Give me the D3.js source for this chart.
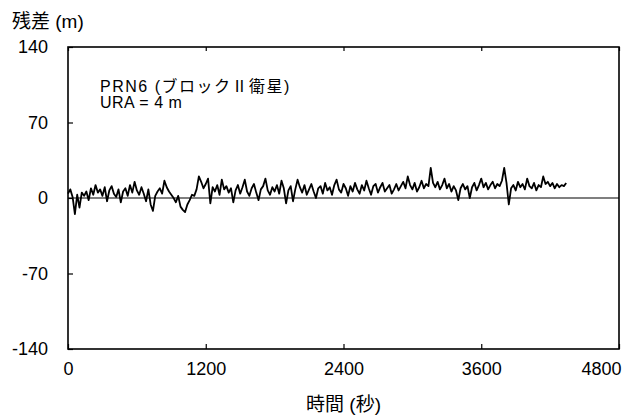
<!DOCTYPE html>
<html><head><meta charset="utf-8">
<script src="https://cdn.jsdelivr.net/npm/d3@7"></script>
<style>
body{margin:0;background:#fff;}
svg text{font-family:"Liberation Sans",Arial,"Noto Sans CJK JP",sans-serif;fill:#000;}
</style></head>
<body>
<svg id="c" width="627" height="418"></svg>
<script>
const xTicks = [0, 1200, 2400, 3600, 4800];
const yTicks = [-140, -70, 0, 70, 140];
const timeStep = 20; // seconds between samples
const residuals = [
 4, 8, 1, -15, 3, -9, 5, 2, 6, -2,
 9, 3, 12, 5, 8, 2, 10, -3, 7, 11,
 4, 1, 8, -4, 6, 9, 2, 12, 5, 15,
 7, 3, 10, 4, -3, 8, -6, -12, 2, 6,
 9, 4, 16, 10, 6, 3, 0, -4, 2, -8,
 -11, -13, -6, -2, 3, 2, 8, 20, 15, 9,
 13, 18, -5, 10, 6, 12, 3, 17, 8, 11,
 5, 9, -4, 7, 12, 4, 10, 17, 6, 2,
 9, 13, 5, -2, 8, 11, 18, 7, 3, 10,
 6, 12, 4, 16, 9, -5, 7, 11, -3, 8,
 17, 10, 5, 12, 3, 8, 13, 6, 0, 9,
 11, 4, 14, 7, 10, 3, 12, 17, 8, 5,
 13, 9, 2, 11, 6, 14, 8, 4, 12, 7,
 16, 9, 3, 11, 13, 5, 10, 14, 6, 9,
 12, 4, 8, 13, 7, 11, 15, 9, 20, 12,
 8, 14, 6, 10, 16, 9, 13, 11, 28, 14,
 10, 15, 8, 12, 18, 9, 13, 6, 11, 7,
 -2, 9, 13, 8, 11, 0, 10, 14, 7, 12,
 18, 10, 14, 8, 12, 15, 9, 13, 11, 16,
 28, 14, -6, 9, 12, 7, 15, 10, 13, 8,
 18, 11, 9, 14, 7, 12, 10, 20, 13, 15,
 11, 14, 9, 13, 10, 12, 11, 14
];
const yTitle = "残差 (m)";
const xTitle = "時間 (秒)";
const noteLines = ["PRN6 (ブロックⅡ衛星)", "URA = 4 m"];

const svg = d3.select("#c");
const L = 68, R = 619, T = 47, B = 349;
const x = d3.scaleLinear().domain([0, 4800]).range([L, R]);
const y = d3.scaleLinear().domain([-140, 140]).range([B, T]);
const fmt = d => String(d);

// zero line
svg.append("line").attr("x1", L).attr("x2", R).attr("y1", y(0)).attr("y2", y(0))
  .attr("stroke", "#000").attr("stroke-width", 1.2);

// data line
const pts = residuals.map((v, i) => [i * timeStep, v]);
svg.append("path").datum(pts)
  .attr("fill", "none").attr("stroke", "#000").attr("stroke-width", 1.8)
  .attr("stroke-linejoin", "round")
  .attr("d", d3.line().x(d => x(d[0])).y(d => y(d[1])));

// frame
svg.append("rect").attr("x", L).attr("y", T).attr("width", R - L).attr("height", B - T)
  .attr("fill", "none").attr("stroke", "#000").attr("stroke-width", 1.6);

// axes (inward ticks)
const xb = svg.append("g").attr("transform", `translate(0,${B})`)
  .call(d3.axisBottom(x).tickValues(xTicks).tickFormat(fmt).tickSizeInner(-5).tickSizeOuter(0).tickPadding(13));
xb.select(".domain").remove();
xb.selectAll("text").style("font-size", "18px").attr("dy", "0.71em");
xb.selectAll(".tick").filter(d => d === 4800).select("text").attr("text-anchor", "end").attr("x", 2);

const xt = svg.append("g").attr("transform", `translate(0,${T})`)
  .call(d3.axisTop(x).tickValues(xTicks).tickSizeInner(-4).tickSizeOuter(0).tickFormat(""));
xt.select(".domain").remove();

const yl = svg.append("g").attr("transform", `translate(${L},0)`)
  .call(d3.axisLeft(y).tickValues(yTicks).tickFormat(fmt).tickSizeInner(-5).tickSizeOuter(0).tickPadding(20));
yl.select(".domain").remove();
yl.selectAll("text").style("font-size", "18px");
svg.selectAll(".tick line").attr("stroke", "#000").attr("stroke-width", 1.2);

// titles
svg.append("text").attr("x", 12).attr("y", 28).style("font-size", "19px").text(yTitle);
svg.append("text").attr("x", (L + R) / 2).attr("y", 411).attr("text-anchor", "middle")
  .style("font-size", "19px").text(xTitle);

// annotation
noteLines.forEach((t, i) => {
  svg.append("text").attr("x", 100).attr("y", 92 + i * 16).style("font-size", "16px")
    .style("letter-spacing", i === 0 ? "1.5px" : "0.5px").text(t);
});
</script>
</body></html>
